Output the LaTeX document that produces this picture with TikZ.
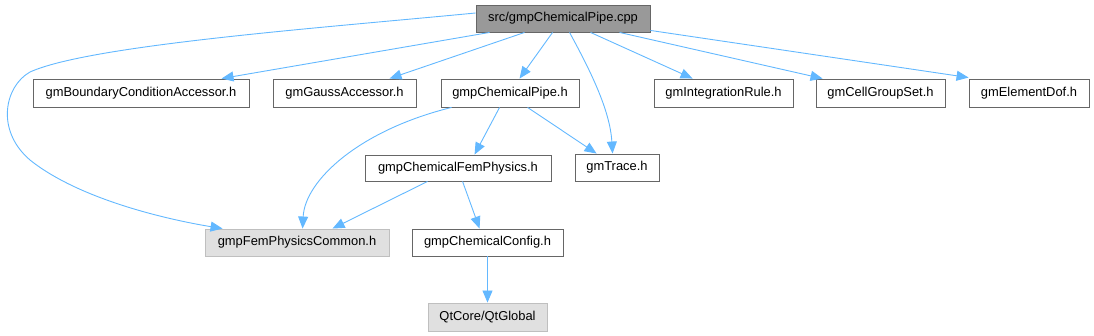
\documentclass[tikz,border=0pt]{standalone}
\usepackage{fontspec}
\setmainfont{Liberation Sans}
\usetikzlibrary{arrows.meta}
\definecolor{edgeblue}{HTML}{63B8FF}
\definecolor{boxline}{HTML}{666666}
\definecolor{rootfill}{HTML}{999999}
\definecolor{extfill}{HTML}{E0E0E0}
\definecolor{extline}{HTML}{BFBFBF}
\tikzset{
  filebox/.style={draw=boxline, line width=0.9pt, fill=white, rectangle, inner sep=0pt, anchor=center,
    font=\fontsize{12.9}{15}\selectfont, text=black},
  rootbox/.style={filebox, fill=rootfill},
  extbox/.style={filebox, draw=extline, fill=extfill},
  dep/.style={draw=edgeblue, line width=0.9pt, -{Triangle[length=12pt,width=10pt]}}
}
\begin{document}
\begin{tikzpicture}[x=1pt,y=-1pt]
\useasboundingbox (0,0) rectangle (1094,336);
\node[rootbox, minimum width=174pt, minimum height=27pt] (cpp) at (563,18.5) {src/gmpChemicalPipe.cpp};
\node[filebox, minimum width=216pt, minimum height=28pt] (bca) at (141,93) {gmBoundaryConditionAccessor.h};
\node[filebox, minimum width=143pt, minimum height=28pt] (gauss) at (344.5,93) {gmGaussAccessor.h};
\node[filebox, minimum width=138pt, minimum height=28pt] (pipeh) at (510,93) {gmpChemicalPipe.h};
\node[filebox, minimum width=139pt, minimum height=28pt] (integ) at (723.5,93) {gmIntegrationRule.h};
\node[filebox, minimum width=129pt, minimum height=28pt] (cell) at (880.5,93) {gmCellGroupSet.h};
\node[filebox, minimum width=120pt, minimum height=28pt] (dof) at (1029,93) {gmElementDof.h};
\node[filebox, minimum width=186pt, minimum height=26pt] (femphys) at (458,168) {gmpChemicalFemPhysics.h};
\node[filebox, minimum width=84pt, minimum height=27pt] (trace) at (617,167.5) {gmTrace.h};
\node[extbox, minimum width=184pt, minimum height=27pt] (fempc) at (297,242.5) {gmpFemPhysicsCommon.h};
\node[filebox, minimum width=151pt, minimum height=27pt] (config) at (487.5,242.5) {gmpChemicalConfig.h};
\node[extbox, minimum width=119pt, minimum height=28pt] (qt) at (487.5,317) {QtCore/QtGlobal};

\draw[dep] ([xshift=14pt]cpp.south west) -- ([xshift=189pt]bca.north west);
\draw[dep] ([xshift=49pt]cpp.south west) -- ([xshift=117pt]gauss.north west);
\draw[dep] ([xshift=77pt]cpp.south west) -- ([xshift=79pt]pipeh.north west);
\draw[dep] ([xshift=94pt]cpp.south west) .. controls (590,70) and (610,110) .. ([xshift=38pt]trace.north west);
\draw[dep] ([xshift=115pt]cpp.south west) -- ([xshift=39pt]integ.north west);
\draw[dep] ([xshift=144pt]cpp.south west) -- ([xshift=7pt]cell.north west);
\draw[dep] ([yshift=2pt]cpp.south east) -- ([yshift=1pt]dof.north west);
\draw[dep] ([yshift=5.5pt]cpp.west) .. controls (320,28) and (90,45) .. (30,72)
  .. controls (5,86) and (-5,130) .. (30,160)
  .. controls (80,200) and (170,220) .. ([xshift=18pt]fempc.north west);
\draw[dep] ([xshift=11pt]pipeh.south west) .. controls (360,130) and (305,180) .. ([xshift=98pt]fempc.north west);
\draw[dep] ([xshift=59pt]pipeh.south west) -- ([xshift=110pt]femphys.north west);
\draw[dep] ([xshift=87pt]pipeh.south west) -- ([xshift=22pt]trace.north west);
\draw[dep] ([xshift=63pt]femphys.south west) -- ([xshift=128pt]fempc.north west);
\draw[dep] ([xshift=98pt]femphys.south west) -- ([xshift=68pt]config.north west);
\draw[dep] (config.south) -- (qt.north);
\end{tikzpicture}
\end{document}
